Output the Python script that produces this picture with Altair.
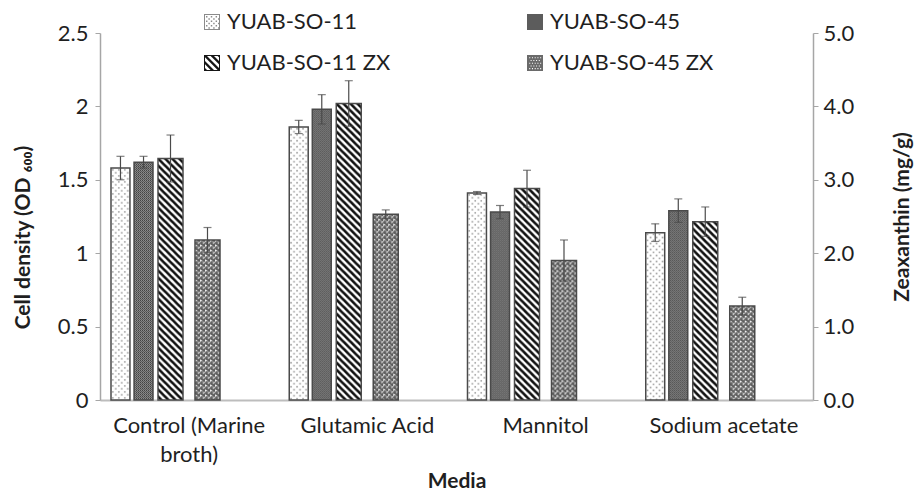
import urllib.parse

import altair as alt
import pandas as pd

# ---- values -------------------------------------------------------------
media = ["Control (Marine broth)", "Glutamic Acid", "Mannitol", "Sodium acetate"]

series_od = ["YUAB-SO-11", "YUAB-SO-45"]
series_zx = ["YUAB-SO-11 ZX", "YUAB-SO-45 ZX"]

# cell density (OD600), left axis
od_so11 = [1.58, 1.86, 1.41, 1.14]
od_so11_err = [0.08, 0.045, 0.01, 0.06]
od_so45 = [1.62, 1.98, 1.28, 1.29]
od_so45_err = [0.04, 0.10, 0.045, 0.08]

# zeaxanthin (mg/g), right axis
zx_so11 = [3.29, 4.04, 2.88, 2.43]
zx_so11_err = [0.32, 0.31, 0.25, 0.20]
zx_so45 = [2.18, 2.53, 1.90, 1.28]
zx_so45_err = [0.17, 0.06, 0.28, 0.12]

ALL_SERIES = series_od + series_zx


# ---- bar fill textures (tiled SVG patterns) --------------------------------
def texture(tile_w, tile_h, body):
    svg = (
        '<svg xmlns="http://www.w3.org/2000/svg" width="100%" height="100%">'
        f'<defs><pattern id="p" width="{tile_w}" height="{tile_h}" patternUnits="userSpaceOnUse">'
        f"{body}</pattern></defs>"
        '<rect width="100%" height="100%" fill="url(#p)"/></svg>'
    )
    return "data:image/svg+xml;utf8," + urllib.parse.quote(svg)


TEXTURES = {
    "YUAB-SO-11": texture(
        6, 6,
        '<rect width="6" height="6" fill="#ffffff"/>'
        '<rect x="1" y="1" width="1.6" height="1.6" fill="#a0a0a0"/>'
        '<rect x="4" y="4" width="1.6" height="1.6" fill="#a0a0a0"/>',
    ),
    "YUAB-SO-45": texture(
        2, 2,
        '<rect width="2" height="2" fill="#383838"/>'
        '<rect x="1" y="0" width="1" height="1" fill="#a0a0a0"/>'
        '<rect x="0" y="1" width="1" height="1" fill="#a0a0a0"/>',
    ),
    "YUAB-SO-11 ZX": texture(
        7, 7,
        '<rect width="7" height="7" fill="#ffffff"/>'
        '<path d="M-2,-2 L9,9 M-2,5 L2,9 M5,-2 L9,2" stroke="#111111" stroke-width="2.6"/>',
    ),
    "YUAB-SO-45 ZX": texture(
        5, 5,
        '<rect width="5" height="5" fill="#5e5e5e"/>'
        '<rect x="0" y="0" width="2" height="1" fill="#f2f2f2"/>'
        '<rect x="0" y="1" width="1" height="1" fill="#f2f2f2"/>'
        '<rect x="3" y="2" width="2" height="1" fill="#f2f2f2"/>'
        '<rect x="3" y="3" width="1" height="1" fill="#f2f2f2"/>'
        '<rect x="2" y="1" width="1" height="1" fill="#b0b0b0"/>'
        '<rect x="0" y="4" width="1" height="1" fill="#b0b0b0"/>',
    ),
}


# ---- legend swatches as symbol paths in the unit square [-1, 1] ----------
def sq(x, y, s, ccw=False):
    if ccw:
        return f"M{x:.3f},{y:.3f}V{y + s:.3f}H{x + s:.3f}V{y:.3f}Z"
    return f"M{x:.3f},{y:.3f}H{x + s:.3f}V{y + s:.3f}H{x:.3f}Z"


RING = sq(-1, -1, 2) + sq(-0.875, -0.875, 1.75, ccw=True)
INNER = 0.875


def clip_to_inner(poly):
    def clip(pts, inside, cross):
        out = []
        for i in range(len(pts)):
            a, b = pts[i - 1], pts[i]
            if inside(b):
                if not inside(a):
                    out.append(cross(a, b))
                out.append(b)
            elif inside(a):
                out.append(cross(a, b))
        return out

    def cx(v):
        return lambda a, b: (v, a[1] + (b[1] - a[1]) * (v - a[0]) / (b[0] - a[0]))

    def cy(v):
        return lambda a, b: (a[0] + (b[0] - a[0]) * (v - a[1]) / (b[1] - a[1]), v)

    pts = poly
    for inside, cross in (
        (lambda p: p[0] >= -INNER, cx(-INNER)),
        (lambda p: p[0] <= INNER, cx(INNER)),
        (lambda p: p[1] >= -INNER, cy(-INNER)),
        (lambda p: p[1] <= INNER, cy(INNER)),
    ):
        if not pts:
            break
        pts = clip(pts, inside, cross)
    return pts


def stripes_path():
    parts = [RING]
    period, width = 0.875, 0.42
    c = -2.0
    while c < 2.0:
        band = [(-3, -3 + c), (3, 3 + c), (3, 3 + c + width), (-3, -3 + c + width)]
        pts = clip_to_inner(band)
        if len(pts) >= 3:
            parts.append("M" + "L".join(f"{x:.3f},{y:.3f}" for x, y in pts) + "Z")
        c += period
    return "".join(parts)


def dots_path():
    parts = [RING]
    for i in range(6):
        for j in range(3):
            x = -0.75 + j * 0.6 + (i % 2) * 0.3
            y = -0.75 + i * 0.28
            parts.append(sq(x, y, 0.18))
    return "".join(parts)


def spotted_path():
    parts = [sq(-1, -1, 2)]
    for i in range(5):
        for j in range(5):
            x = -0.72 + j * 0.34 + (i % 2) * 0.17
            y = -0.72 + i * 0.34
            if x < 0.8:
                parts.append(sq(x, y, 0.13, ccw=True))
    return "".join(parts)


SWATCH_SHAPES = [dots_path(), sq(-1, -1, 2), stripes_path(), spotted_path()]
SWATCH_COLORS = ["#8a8a8a", "#5c5c5c", "#151515", "#6a6a6a"]


def frame(names, values, errors):
    rows = []
    for name, vals, errs in zip(names, values, errors):
        for m, v, e in zip(media, vals, errs):
            rows.append(
                {"media": m, "series": name, "value": v,
                 "lo": v - e, "hi": v + e, "texture": TEXTURES[name]}
            )
    return pd.DataFrame(rows)


df_od = frame(series_od, [od_so11, od_so45], [od_so11_err, od_so45_err])
df_zx = frame(series_zx, [zx_so11, zx_so45], [zx_so11_err, zx_so45_err])

FONT = "Lato"
TEXT = "#1f1f1f"
AXIS_GREY = "#a6a6a6"
EDGE = "#4a4a4a"

legend = alt.Legend(
    title=None,
    orient="none",
    legendX=101,
    legendY=-22,
    columns=2,
    direction="horizontal",
    symbolSize=256,
    symbolStrokeWidth=0,
    symbolOpacity=1,
    labelFontSize=22,
    labelFont=FONT,
    labelColor=TEXT,
    labelOffset=4,
    rowPadding=19,
    columnPadding=133,
    labelLimit=400,
)
color_enc = alt.Color(
    "series:N", scale=alt.Scale(domain=ALL_SERIES, range=SWATCH_COLORS), legend=legend
)
shape_enc = alt.Shape(
    "series:N", scale=alt.Scale(domain=ALL_SERIES, range=SWATCH_SHAPES), legend=legend
)

x_enc = alt.X(
    "media:N",
    sort=media,
    scale=alt.Scale(paddingInner=0, paddingOuter=0),
    axis=alt.Axis(
        title="Media",
        labelAngle=0,
        ticks=False,
        labelPadding=15,
        labelLineHeight=29,
        labelExpr="datum.value == 'Control (Marine broth)' ? ['Control (Marine', 'broth)'] : datum.value",
        titlePadding=5,
        domainColor="#bdbdbd",
        domainWidth=2,
    ),
)


def group(df, offset_range, inner_pad, y_axis, y_domain, with_key=False):
    off = alt.XOffset(
        "series:N",
        sort=list(df["series"].unique()),
        scale=alt.Scale(range=offset_range, paddingInner=inner_pad, paddingOuter=0),
    )
    y = alt.Y("value:Q", scale=alt.Scale(domain=y_domain, nice=False), axis=y_axis)
    base = alt.Chart(df).encode(x=x_enc, xOffset=off)
    fill = base.mark_bar(strokeWidth=0).encode(y=y, y2=alt.datum(0), color=color_enc)
    tex = base.mark_image(aspect=False).encode(
        y=alt.Y("value:Q"), y2=alt.datum(0), url=alt.Url("texture:N")
    )
    outline = base.mark_bar(fillOpacity=0, stroke=EDGE, strokeWidth=1.5).encode(
        y=alt.Y("value:Q"), y2=alt.datum(0)
    )
    rule = base.mark_rule(color=EDGE, strokeWidth=1.2).encode(
        y=alt.Y("lo:Q"), y2="hi:Q"
    )
    cap_lo = base.mark_tick(color=EDGE, size=8, thickness=1.2, orient="horizontal").encode(
        y=alt.Y("lo:Q")
    )
    cap_hi = base.mark_tick(color=EDGE, size=8, thickness=1.2, orient="horizontal").encode(
        y=alt.Y("hi:Q")
    )
    layers = [fill, tex, outline, rule, cap_lo, cap_hi]
    if with_key:
        # carries the patterned swatch shapes into the legend; draws nothing
        key = (
            base.mark_point(filled=True, opacity=1)
            .encode(y=alt.Y("value:Q"), color=color_enc, shape=shape_enc)
            .transform_filter("false")
        )
        layers.append(key)
    return alt.layer(*layers)


left_axis = alt.Axis(
    title="Cell density (OD ₆₀₀)",
    orient="left",
    values=[0, 0.5, 1, 1.5, 2, 2.5],
    format="~g",
    grid=False,
    tickSize=5,
    labelPadding=7,
    titleX=-67,
    titleY=204,
    titleAngle=270,
    domainColor=AXIS_GREY,
    tickColor=AXIS_GREY,
)
right_axis = alt.Axis(
    title="Zeaxanthin (mg/g)",
    orient="right",
    values=[i * 0.5 for i in range(11)],
    format=".1f",
    grid=False,
    tickSize=5,
    labelPadding=5,
    titleX=99,
    titleAngle=270,
    domainColor=AXIS_GREY,
    tickColor=AXIS_GREY,
)

od_group = group(df_od, [11, 53], 0.178, left_axis, [0, 2.5], with_key=True)
zx_group = group(df_zx, [58, 120], 0.324, right_axis, [0, 5])

chart = (
    alt.layer(od_group, zx_group)
    .resolve_scale(y="independent", xOffset="independent")
    .properties(
        width=713,
        height=367,
        autosize=alt.AutoSizeParams(type="none"),
        padding={"left": 100, "top": 33, "right": 103, "bottom": 93},
    )
    .configure(font=FONT)
    .configure_view(stroke=None)
    .configure_axis(
        labelFont=FONT,
        labelFontSize=22,
        labelColor=TEXT,
        titleFont=FONT,
        titleFontSize=21,
        titleFontWeight="bold",
        titleColor=TEXT,
        domainWidth=1.5,
    )
)

chart.save("out.html", embed_options={"renderer": "svg", "actions": False})
